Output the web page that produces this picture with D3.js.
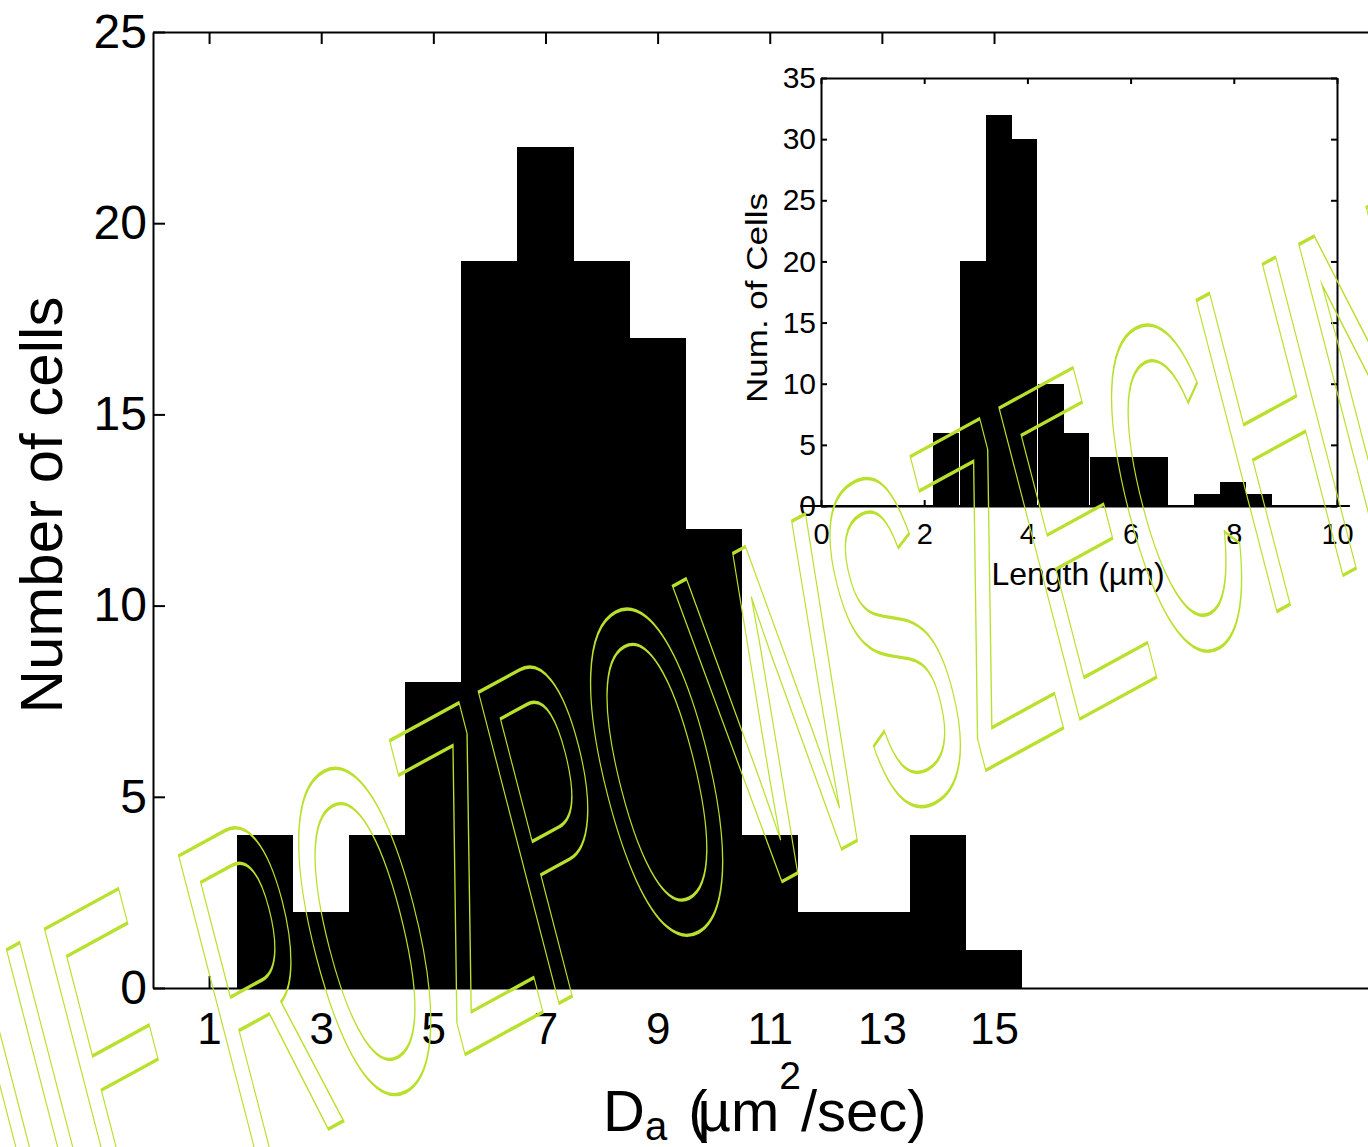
<!DOCTYPE html>
<html>
<head>
<meta charset="utf-8">
<script src="https://cdn.jsdelivr.net/npm/d3@7"></script>
<style>
  body { margin: 0; background: #fff; }
  svg { display: block; }
  text { font-family: "Liberation Sans", Arial, Helvetica, sans-serif; fill: #000; }
</style>
</head>
<body>
<div id="chart"></div>
<script>
// main histogram: diffusion coefficient D_a
const diffBinCenters = [2, 3, 4, 5, 6, 7, 8, 9, 10, 11, 12, 13, 14, 15]
const diffCounts = [4, 2, 4, 8, 19, 22, 19, 17, 12, 4, 2, 2, 4, 1]
const diffTicks = [1, 3, 5, 7, 9, 11, 13, 15]
const cellTicks = [0, 5, 10, 15, 20, 25]

// inset histogram: cell length
const lengthBinCenters = [2.43, 2.94, 3.44, 3.94, 4.45, 4.95, 5.46, 5.96, 6.47, 6.97, 7.48, 7.98, 8.48]
const lengthCounts = [6, 20, 32, 30, 10, 6, 4, 4, 4, 0, 1, 2, 1]
const lengthTicks = [0, 2, 4, 6, 8, 10]
const lengthCountTicks = [0, 5, 10, 15, 20, 25, 30, 35]

const watermarkText = "NIE ROZPOWSZECHNIAĆ"

function drawChart() {
  const width = 1368
  const height = 1147

  const svg = d3.select("#chart")
    .append("svg")
    .attr("width", width)
    .attr("height", height)

  // ---- main plot ----
  const x = d3.scaleLinear().domain([0, 22]).range([153, 1386.5])
  const y = d3.scaleLinear().domain([0, 25]).range([988, 32])
  const binWidth = 1

  svg.append("g")
    .attr("shape-rendering", "crispEdges")
    .selectAll("rect")
    .data(diffBinCenters)
    .join("rect")
    .attr("x", (d) => x(d - binWidth / 2))
    .attr("width", (d) => x(d + binWidth / 2) - x(d - binWidth / 2))
    .attr("y", (d, i) => y(diffCounts[i]))
    .attr("height", (d, i) => y(0) - y(diffCounts[i]))
    .style("fill", "#000")

  const styleAxis = (g, fontSize) => {
    g.selectAll("path.domain").style("stroke", "#000").style("stroke-width", 2)
    g.selectAll(".tick line").style("stroke", "#000").style("stroke-width", 2)
    g.selectAll("text")
      .style("font-size", fontSize + "px")
      .style("font-family", '"Liberation Sans", Arial, sans-serif')
      .style("fill", "#000")
  }

  svg.append("g")
    .attr("transform", `translate(0,${y(0)})`)
    .call(d3.axisBottom(x).tickValues(diffTicks).tickSizeInner(-12).tickSizeOuter(0).tickPadding(25))
    .call((g) => styleAxis(g, 44))

  svg.append("g")
    .attr("transform", `translate(0,${y(25)})`)
    .call(d3.axisTop(x).tickValues(diffTicks).tickSizeInner(-12).tickSizeOuter(0).tickFormat(""))
    .call((g) => styleAxis(g, 44))

  svg.append("g")
    .attr("transform", `translate(${x(0)},0)`)
    .call(d3.axisLeft(y).tickValues(cellTicks).tickSizeInner(-12).tickSizeOuter(0).tickPadding(6))
    .call((g) => styleAxis(g, 48))

  svg.append("text")
    .attr("transform", "translate(62,505) rotate(-90)")
    .attr("text-anchor", "middle")
    .style("font-size", "60px")
    .text("Number of cells")

  const xLabel = svg.append("text")
    .attr("x", 603)
    .attr("y", 1131)
    .style("font-size", "58px")
  xLabel.append("tspan").text("D")
  xLabel.append("tspan").attr("dy", 9).style("font-size", "40px").text("a")
  xLabel.append("tspan").attr("dx", 21).attr("dy", -9).text("(")
  xLabel.append("tspan").attr("dx", -10).text("µm")
  xLabel.append("tspan").attr("dy", -42).style("font-size", "39px").text("2")
  xLabel.append("tspan").attr("dy", 42).text("/sec)")

  // ---- inset ----
  const xi = d3.scaleLinear().domain([0, 10]).range([821, 1337])
  const yi = d3.scaleLinear().domain([0, 35]).range([506, 78])
  const lengthBinWidth = 0.504

  const inset = svg.append("g")

  inset.append("rect")
    .attr("x", xi(0))
    .attr("y", yi(35))
    .attr("width", xi(10) - xi(0))
    .attr("height", yi(0) - yi(35))
    .style("fill", "#fff")

  inset.append("g")
    .attr("shape-rendering", "crispEdges")
    .selectAll("rect")
    .data(lengthBinCenters)
    .join("rect")
    .attr("x", (d) => xi(d - lengthBinWidth / 2))
    .attr("width", (d) => xi(d + lengthBinWidth / 2) - xi(d - lengthBinWidth / 2))
    .attr("y", (d, i) => yi(lengthCounts[i]))
    .attr("height", (d, i) => yi(0) - yi(lengthCounts[i]))
    .style("fill", "#000")

  inset.append("g")
    .attr("transform", `translate(0,${yi(0)})`)
    .call(d3.axisBottom(xi).tickValues(lengthTicks).tickSizeInner(-6).tickSizeOuter(0).tickPadding(17))
    .call((g) => styleAxis(g, 29))

  inset.append("line")
    .attr("x1", xi(-0.4))
    .attr("x2", xi(10.25))
    .attr("y1", yi(0))
    .attr("y2", yi(0))
    .style("stroke", "#000")
    .style("stroke-width", 2)

  inset.append("g")
    .attr("transform", `translate(0,${yi(35)})`)
    .call(d3.axisTop(xi).tickValues(lengthTicks).tickSizeInner(-6).tickSizeOuter(0).tickFormat(""))
    .call((g) => styleAxis(g, 29))

  inset.append("g")
    .attr("transform", `translate(${xi(0)},0)`)
    .call(d3.axisLeft(yi).tickValues(lengthCountTicks).tickSizeInner(-6).tickSizeOuter(0).tickPadding(5))
    .call((g) => styleAxis(g, 30))

  inset.append("g")
    .attr("transform", `translate(${xi(10)},0)`)
    .call(d3.axisRight(yi).tickValues(lengthCountTicks).tickSizeInner(-6).tickSizeOuter(0).tickFormat(""))
    .call((g) => styleAxis(g, 30))

  inset.append("text")
    .attr("x", 1078)
    .attr("y", 585)
    .attr("text-anchor", "middle")
    .style("font-size", "32px")
    .text("Length (µm)")

  inset.append("text")
    .attr("transform", "translate(767,298) rotate(-90)")
    .attr("text-anchor", "middle")
    .attr("textLength", 210)
    .attr("lengthAdjust", "spacingAndGlyphs")
    .style("font-size", "30px")
    .text("Num. of Cells")

  // watermark, outlined letters on a sheared baseline
  svg.append("text")
    .attr("transform", "matrix(1.42,-0.775,1.17,4.52,-28.6,1323.9)")
    .style("font-size", "100px")
    .style("fill", "none")
    .style("stroke", "#b9e02c")
    .style("stroke-width", 2.6)
    .attr("vector-effect", "non-scaling-stroke")
    .text(watermarkText)
}

drawChart()
</script>
</body>
</html>
